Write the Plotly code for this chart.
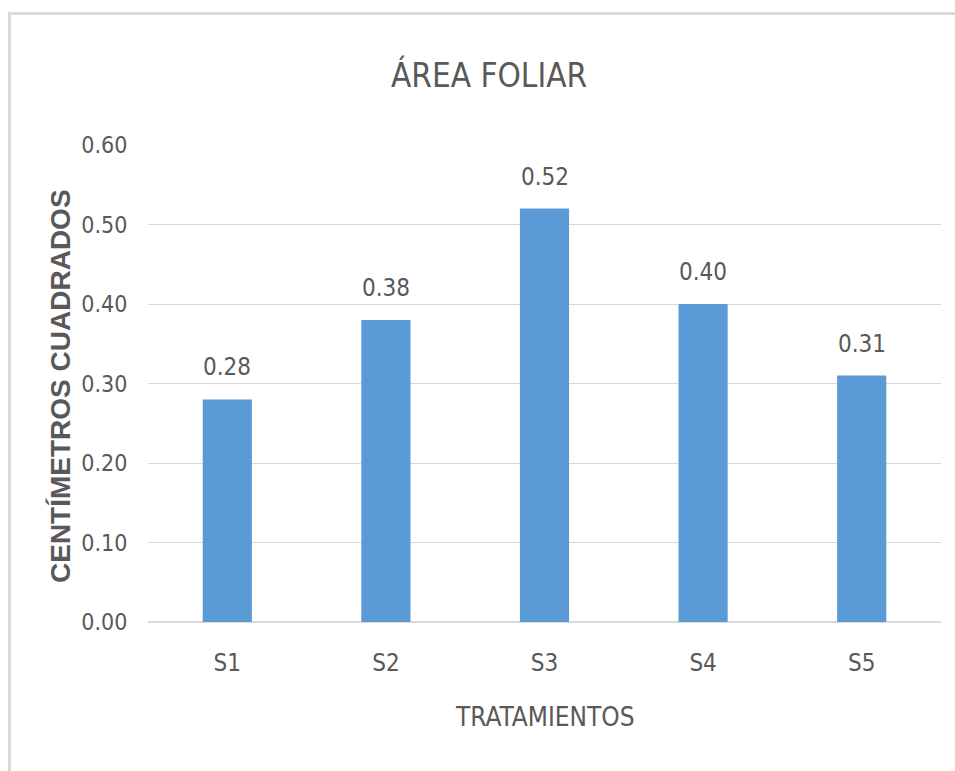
import plotly.graph_objects as go

# Foliar area per treatment (square centimetres)
tratamientos = ["S1", "S2", "S3", "S4", "S5"]
area_foliar = [0.28, 0.38, 0.52, 0.40, 0.31]
y_ticks = [0.0, 0.1, 0.2, 0.3, 0.4, 0.5, 0.6]

BAR = "#5B9BD5"
TXT = "#595959"
GRID = "#D9D9D9"
NARROW = "Liberation Sans Narrow, DejaVu Sans Condensed, Arial Narrow, sans-serif"

W, H = 955, 771
L, R, T, B = 148, 14, 145, 149
pw, ph = W - L - R, H - T - B


def px_x(p):
    return (p - L) / pw


def px_y(p):
    return (H - B - p) / ph


fig = go.Figure(
    go.Bar(
        x=tratamientos,
        y=area_foliar,
        marker=dict(color=BAR, line=dict(width=0)),
        hoverinfo="x+y",
    )
)

# value labels above each bar
for cat, val in zip(tratamientos, area_foliar):
    fig.add_annotation(
        x=cat, y=val, xref="x", yref="y",
        text=f"{val:.2f}", showarrow=False,
        yanchor="bottom", yshift=16,
        font=dict(family=NARROW, size=24, color=TXT),
    )

# chart title and axis titles
fig.add_annotation(
    x=px_x(489), y=px_y(75), xref="paper", yref="paper",
    text="ÁREA FOLIAR", showarrow=False, xanchor="center", yanchor="middle",
    font=dict(family=NARROW, size=33, color=TXT),
)
fig.add_annotation(
    x=0.5, y=px_y(717), xref="paper", yref="paper",
    text="TRATAMIENTOS", showarrow=False, xanchor="center", yanchor="middle",
    font=dict(family=NARROW, size=26, color=TXT),
)
fig.add_annotation(
    x=px_x(60), y=px_y(386), xref="paper", yref="paper",
    text="CENTÍMETROS CUADRADOS", showarrow=False, textangle=-90,
    xanchor="center", yanchor="middle",
    font=dict(family="Liberation Sans, Arial, sans-serif", size=28,
              color=TXT, weight=700),
)

# outer chart frame
fig.add_shape(
    type="rect", xref="paper", yref="paper",
    x0=px_x(9.5), y0=px_y(H + 20), x1=px_x(W + 20), y1=px_y(13.5),
    line=dict(color=GRID, width=3), fillcolor="rgba(0,0,0,0)", layer="below",
)

fig.update_layout(
    width=W, height=H,
    margin=dict(l=L, r=R, t=T, b=B, pad=0),
    paper_bgcolor="white", plot_bgcolor="white",
    bargap=0.69, showlegend=False,
    xaxis=dict(
        showgrid=False, showline=False, zeroline=False,
        ticks="outside", ticklen=19, tickcolor="rgba(0,0,0,0)",
        tickfont=dict(family=NARROW, size=24, color=TXT),
        fixedrange=True,
    ),
    yaxis=dict(
        range=[0, 0.6], tickvals=y_ticks, tickformat=".2f",
        showgrid=True, gridcolor=GRID, gridwidth=1,
        zeroline=True, zerolinecolor=GRID, zerolinewidth=2,
        showline=False,
        ticks="outside", ticklen=15, tickcolor="rgba(0,0,0,0)",
        tickfont=dict(family=NARROW, size=23, color=TXT),
        fixedrange=True,
    ),
)

fig.write_html("out.html")
